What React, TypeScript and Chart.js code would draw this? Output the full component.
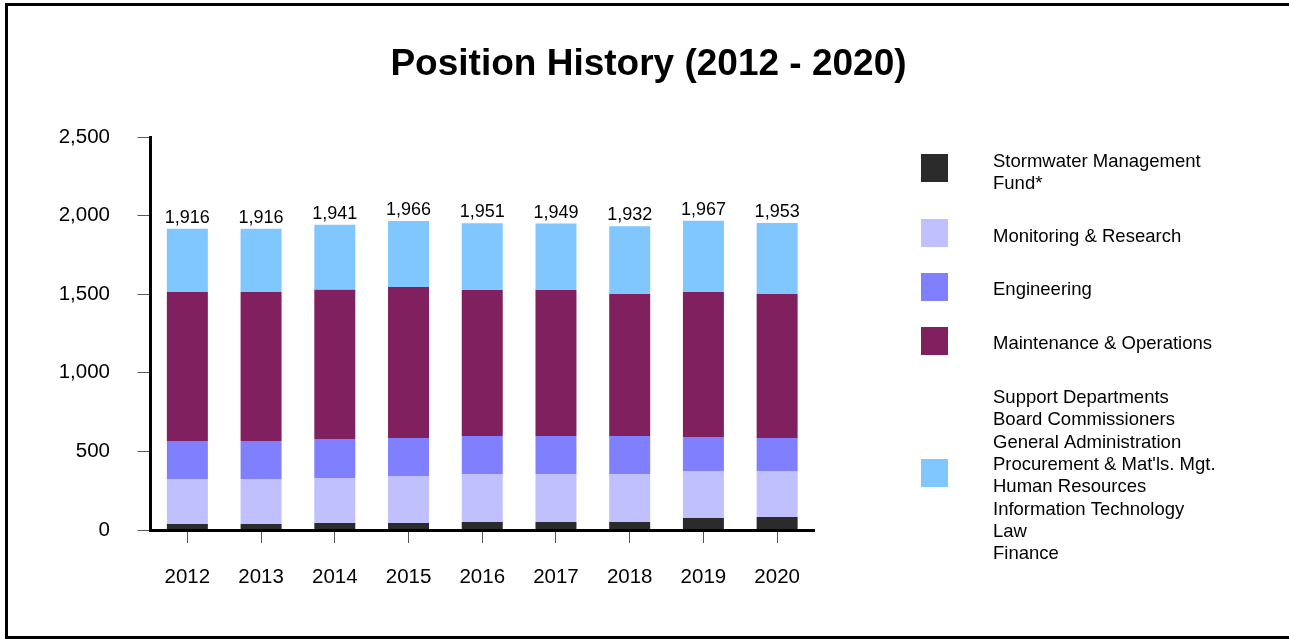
import React, { useEffect, useRef } from "react";
import { Chart, registerables } from "chart.js";

Chart.register(...registerables);

const years = ["2012", "2013", "2014", "2015", "2016", "2017", "2018", "2019", "2020"];
const stormwater = [38, 38, 45, 45, 51, 51, 51, 76, 83];
const monitoring = [286, 286, 286, 298, 305, 305, 305, 299, 292];
const engineering = [242, 242, 248, 242, 242, 242, 242, 217, 210];
const maintenance = [948, 948, 950, 961, 929, 929, 903, 922, 916];
const support = [402, 402, 412, 420, 424, 422, 431, 453, 452];
const totals = [1916, 1916, 1941, 1966, 1951, 1949, 1932, 1967, 1953];
const yMin = 0;
const yMax = 2500;
const yStep = 500;

const titleText = "Position History (2012 - 2020)";
const seriesNames = [
  "Stormwater Management Fund*",
  "Monitoring & Research",
  "Engineering",
  "Maintenance & Operations",
  "Support Departments",
];
const legendLines = [
  ["Stormwater Management", "Fund*"],
  ["Monitoring & Research"],
  ["Engineering"],
  ["Maintenance & Operations"],
  [
    "Support Departments",
    "Board Commissioners",
    "General Administration",
    "Procurement & Mat'ls. Mgt.",
    "Human Resources",
    "Information Technology",
    "Law",
    "Finance",
  ],
];
const colors = ["#2b2b2b", "#c0c0ff", "#8080ff", "#80205f", "#80c6ff"];

const FONT = "Arial, 'Liberation Sans', Helvetica, sans-serif";

const fmt = (v: number) => v.toLocaleString("en-US");

const decorPlugin = {
  id: "decor",
  afterDatasetsDraw(chart: any) {
    const ctx = chart.ctx as CanvasRenderingContext2D;
    const yScale = chart.scales.y;
    const lastMeta = chart.getDatasetMeta(chart.data.datasets.length - 1);
    ctx.save();
    // total labels
    ctx.fillStyle = "#000";
    ctx.font = `18px ${FONT}`;
    ctx.textAlign = "center";
    ctx.textBaseline = "alphabetic";
    totals.forEach((t, i) => {
      const bar = lastMeta.data[i];
      const y = yScale.getPixelForValue(t);
      ctx.fillText(fmt(t), bar.x, y - 6);
    });
    // title
    ctx.font = `bold 37px ${FONT}`;
    ctx.fillText(titleText, 648.5, 74.5);
    // legend
    const boxTops = [154, 219, 273, 327, 459];
    const firstLine = [161.5, 236.5, 289.5, 344, 398];
    const step = 22.3;
    ctx.font = `18.5px ${FONT}`;
    ctx.textAlign = "left";
    ctx.textBaseline = "middle";
    legendLines.forEach((lines, i) => {
      ctx.fillStyle = chart.data.datasets[i].backgroundColor;
      ctx.fillRect(921, boxTops[i], 27, 28);
      ctx.fillStyle = "#000";
      lines.forEach((ln, j) => {
        ctx.fillText(ln, 993, firstLine[i] + j * step);
      });
    });
    ctx.restore();
  },
};

export default function App() {
  const ref = useRef<HTMLCanvasElement | null>(null);

  useEffect(() => {
    if (!ref.current) return;
    const series = [stormwater, monitoring, engineering, maintenance, support];
    const chart = new Chart(ref.current, {
      type: "bar",
      data: {
        labels: years,
        datasets: series.map((d, i) => ({
          label: seriesNames[i],
          data: d,
          backgroundColor: colors[i],
          borderWidth: 0,
          barPercentage: 0.556,
          categoryPercentage: 1,
        })),
      },
      options: {
        animation: false,
        responsive: true,
        maintainAspectRatio: false,
        layout: { padding: { left: 0, right: 1289 - 814, top: 137, bottom: 0 } },
        plugins: {
          legend: { display: false },
          title: { display: false },
          tooltip: { enabled: false },
        },
        scales: {
          x: {
            stacked: true,
            offset: true,
            grid: {
              display: true,
              drawOnChartArea: false,
              offset: false,
              tickLength: 13,
              color: "#555",
              lineWidth: 1,
            },
            border: { display: true, color: "#000", width: 3, z: 1 },
            ticks: { color: "#000", font: { family: FONT, size: 20.5 }, padding: 22 },
            afterFit: (s: any) => {
              s.height = 109;
            },
          },
          y: {
            stacked: true,
            min: yMin,
            max: yMax,
            ticks: {
              stepSize: yStep,
              color: "#000",
              font: { family: FONT, size: 20.5 },
              padding: 27.5,
              callback: (v: any) => fmt(Number(v)),
            },
            grid: { drawOnChartArea: false, tickLength: 13, color: "#555", lineWidth: 1 },
            border: { display: true, color: "#000", width: 3 },
            afterFit: (s: any) => {
              s.width = 150.5;
            },
          },
        },
      },
      plugins: [decorPlugin],
    });
    return () => chart.destroy();
  }, []);

  return (
    <div
      style={{
        position: "absolute",
        left: 0,
        top: 0,
        width: 1289,
        height: 639,
        overflow: "hidden",
        background: "#fff",
      }}
    >
      <div style={{ position: "absolute", left: 0, top: 0, width: 1289, height: 639 }}>
        <canvas ref={ref} />
      </div>
      <div
        style={{
          position: "absolute",
          left: 5,
          top: 3,
          width: 1300,
          height: 636,
          boxSizing: "border-box",
          border: "3px solid #000",
          pointerEvents: "none",
        }}
      />
    </div>
  );
}
